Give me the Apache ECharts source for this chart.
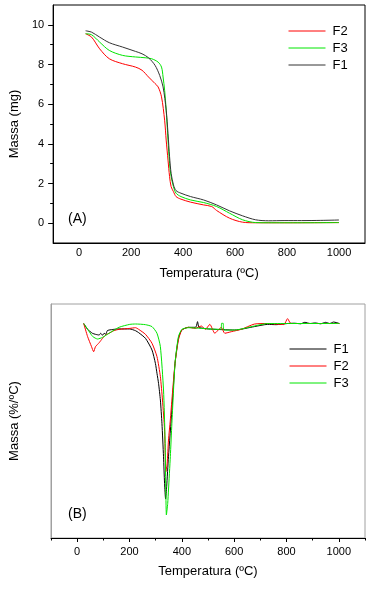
<!DOCTYPE html>
<html>
<head>
<meta charset="utf-8">
<script src="https://cdn.jsdelivr.net/npm/echarts@6/dist/echarts.min.js"></script>
<style>
  html, body { margin: 0; padding: 0; background: #fff; }
  #chart { width: 373px; height: 589px; }
</style>
</head>
<body>
<div id="chart"></div>
<script>
// (A) TG - massa (mg)
var tempF1A = [25, 48, 79, 116, 167, 217, 242, 267, 292, 310, 323, 335, 342, 348, 354, 363, 373, 392, 429, 479, 529, 579, 629, 679, 729, 792, 855, 930, 1000];
var massF1A = [9.70, 9.63, 9.38, 9.10, 8.88, 8.66, 8.54, 8.34, 7.96, 7.45, 6.87, 5.70, 4.52, 3.35, 2.51, 1.93, 1.64, 1.51, 1.34, 1.17, 0.92, 0.62, 0.37, 0.17, 0.12, 0.13, 0.13, 0.14, 0.16];

var tempF2A = [25, 48, 79, 116, 167, 217, 242, 267, 292, 304, 317, 329, 335, 342, 348, 354, 363, 373, 392, 429, 479, 510, 529, 579, 629, 679, 800, 1000];
var massF2A = [9.55, 9.38, 8.79, 8.29, 8.04, 7.87, 7.71, 7.37, 7.04, 6.87, 6.37, 5.19, 4.19, 3.18, 2.35, 1.84, 1.59, 1.34, 1.21, 1.06, 0.92, 0.84, 0.64, 0.25, 0.05, 0.02, 0.02, 0.03];

var tempF3A = [25, 48, 79, 116, 167, 217, 254, 279, 304, 317, 323, 329, 335, 342, 348, 354, 363, 373, 392, 429, 479, 529, 579, 629, 679, 729, 850, 1000];
var massF3A = [9.55, 9.50, 9.13, 8.71, 8.46, 8.38, 8.34, 8.29, 8.12, 7.87, 7.37, 6.70, 5.70, 4.19, 3.00, 2.35, 1.84, 1.51, 1.34, 1.17, 1.04, 0.84, 0.50, 0.17, 0.03, 0.02, 0.02, 0.03];

// (B) DTG - massa (%/ºC)
var tempF1B = [25, 40, 58, 70, 84, 90, 97, 103, 109, 115, 122, 140, 160, 201, 223, 235, 261, 286, 299, 305, 311, 318, 324, 330, 334, 338, 342, 349, 362, 374, 387, 400, 425, 450, 455, 460, 465, 475, 501, 602, 677, 728, 760, 804, 830, 854, 870, 890, 910, 930, 950, 965, 980, 1002];
var dtgF1B = [0, -0.06, -0.1, -0.111, -0.118, -0.1, -0.121, -0.1, -0.111, -0.074, -0.067, -0.06, -0.056, -0.056, -0.074, -0.094, -0.152, -0.272, -0.409, -0.511, -0.614, -0.785, -1.024, -1.366, -1.64, -1.80, -1.674, -1.366, -0.887, -0.409, -0.152, -0.067, -0.039, -0.039, -0.032, 0.019, -0.039, -0.046, -0.056, -0.067, -0.032, -0.009, -0.012, 0, 0.003, -0.003, 0.012, 0, 0.006, -0.003, 0.012, 0, 0.015, 0];

var tempF2B = [25, 40, 55, 63, 70, 84, 97, 109, 122, 140, 160, 201, 223, 235, 261, 286, 305, 318, 326, 334, 339, 344, 349, 356, 362, 374, 387, 400, 425, 450, 475, 490, 507, 526, 545, 551, 564, 589, 627, 677, 728, 790, 804, 817, 1002];
var dtgF2B = [0, -0.135, -0.238, -0.289, -0.238, -0.197, -0.152, -0.118, -0.1, -0.074, -0.06, -0.05, -0.043, -0.06, -0.111, -0.203, -0.34, -0.545, -0.785, -1.092, -1.52, -1.434, -1.195, -0.99, -0.785, -0.409, -0.169, -0.067, -0.039, -0.05, -0.026, -0.06, -0.009, -0.1, -0.05, -0.04, -0.1, -0.084, -0.06, -0.006, 0, -0.01, 0.05, 0, 0];

var tempF3B = [25, 46, 60, 78, 97, 122, 160, 201, 223, 261, 286, 305, 318, 330, 336, 341, 346, 349, 356, 362, 374, 387, 400, 425, 475, 540, 550, 552, 558, 560, 602, 677, 728, 804, 1002];
var dtgF3B = [0, -0.084, -0.135, -0.159, -0.142, -0.1, -0.039, -0.009, -0.005, -0.012, -0.032, -0.1, -0.238, -0.682, -1.195, -1.964, -1.845, -1.708, -1.366, -1.024, -0.409, -0.135, -0.06, -0.043, -0.05, -0.06, -0.06, 0.002, 0.002, -0.067, -0.067, -0.026, 0, 0, 0];

var xLabels = [0, 200, 400, 600, 800, 1000];
var xMinorTicks = [-100, 100, 300, 500, 700, 900, 1100];
var yLabelsA = [0, 2, 4, 6, 8, 10];
var yMinorA = [1, 3, 5, 7, 9];

function pairs(xs, ys) {
  return xs.map(function (x, i) { return [x, ys[i]]; });
}
function plain(v) { return String(v); }
// series names carry the panel, legend shows only "F1", "F2", "F3"
function shortName(name) { return name.split(' ')[0]; }

var font = 'Liberation Sans, Arial, sans-serif';
var chart = echarts.init(document.getElementById('chart'), null, { renderer: 'canvas' });

var nameStyle = { fontSize: 13, color: '#000', fontFamily: font };
var hidden = { show: false };

function curve(name, xi, yi, data, color, smooth) {
  return {
    name: name, type: 'line', xAxisIndex: xi, yAxisIndex: yi, data: data,
    symbol: 'none', smooth: smooth, lineStyle: { color: color, width: 1 }, itemStyle: { color: color }
  };
}

function legendAt(left, top, names) {
  return {
    selectedMode: false, orient: 'vertical', left: left, top: top, padding: 0,
    itemWidth: 37, itemHeight: 14, itemGap: 4,
    itemStyle: { opacity: 0 },
    lineStyle: { width: 1 },
    formatter: shortName,
    textStyle: { fontSize: 13, color: '#000', fontFamily: font, padding: [0, 0, 0, 2] },
    data: names
  };
}

var option = {
  backgroundColor: '#fff',
  animation: false,
  textStyle: { fontFamily: font },
  grid: [
    { left: 46, top: 5, width: 319, height: 238, show: true, borderColor: '#000', borderWidth: 1 },
    { left: 48, top: 304, width: 317, height: 234, show: true, borderColor: '#a0a0a0', borderWidth: 1 }
  ],
  xAxis: [
    {
      gridIndex: 0, type: 'value', min: -100, max: 1100, position: 'bottom',
      name: 'Temperatura (ºC)', nameLocation: 'middle', nameGap: 24, nameTextStyle: nameStyle,
      axisLine: { onZero: false, lineStyle: { color: '#000' } },
      axisTick: hidden,
      axisLabel: { customValues: xLabels, formatter: plain, fontSize: 11, color: '#000', margin: 4, fontFamily: font },
      splitLine: hidden
    },
    {
      gridIndex: 1, type: 'value', min: -100, max: 1100, position: 'bottom',
      name: 'Temperatura (ºC)', nameLocation: 'middle', nameGap: 27, nameTextStyle: nameStyle,
      axisLine: { onZero: false, lineStyle: { color: '#000' } },
      axisTick: { customValues: xLabels, length: 4, lineStyle: { color: '#000' } },
      axisLabel: { customValues: xLabels, formatter: plain, fontSize: 11, color: '#000', margin: 8, fontFamily: font },
      splitLine: hidden
    },
    {
      // minor ticks for (B)
      gridIndex: 1, type: 'value', min: -100, max: 1100, position: 'bottom',
      axisLine: { show: false, onZero: false },
      axisTick: { customValues: xMinorTicks, length: 2.5, lineStyle: { color: '#000' } },
      axisLabel: hidden,
      splitLine: hidden
    }
  ],
  yAxis: [
    {
      gridIndex: 0, type: 'value', min: -1, max: 11, position: 'left',
      name: 'Massa (mg)', nameLocation: 'middle', nameGap: 27, nameTextStyle: nameStyle,
      axisLine: { onZero: false, lineStyle: { color: '#000' } },
      axisTick: { customValues: yLabelsA, length: 5, lineStyle: { color: '#000' } },
      axisLabel: { customValues: yLabelsA, formatter: plain, fontSize: 11, color: '#000', margin: 9, fontFamily: font },
      splitLine: hidden
    },
    {
      // minor ticks for (A)
      gridIndex: 0, type: 'value', min: -1, max: 11, position: 'left',
      axisLine: { show: false, onZero: false },
      axisTick: { customValues: yMinorA, length: 3, lineStyle: { color: '#000' } },
      axisLabel: hidden,
      splitLine: hidden
    },
    {
      gridIndex: 1, type: 'value', min: -2.2, max: 0.2, position: 'left',
      name: 'Massa (%/ºC)', nameLocation: 'middle', nameGap: 30, nameTextStyle: nameStyle,
      axisLine: { onZero: false, lineStyle: { color: '#a0a0a0' } },
      axisTick: hidden,
      axisLabel: hidden,
      splitLine: hidden
    }
  ],
  legend: [
    legendAt(288, 24.5, ['F2 A', 'F3 A', 'F1 A']),
    legendAt(289, 342.5, ['F1 B', 'F2 B', 'F3 B'])
  ],
  graphic: [
    { type: 'text', left: 68, top: 212, style: { text: '(A)', font: '14px ' + font, fill: '#000' } },
    { type: 'text', left: 68, top: 507, style: { text: '(B)', font: '14px ' + font, fill: '#000' } }
  ],
  series: [
    curve('F2 A', 0, 0, pairs(tempF2A, massF2A), '#ff0000', 0.3),
    curve('F3 A', 0, 0, pairs(tempF3A, massF3A), '#00e600', 0.3),
    curve('F1 A', 0, 0, pairs(tempF1A, massF1A), '#333333', 0.3),
    curve('F1 B', 1, 2, pairs(tempF1B, dtgF1B), '#000000', 0.2),
    curve('F2 B', 1, 2, pairs(tempF2B, dtgF2B), '#ff0000', 0.2),
    curve('F3 B', 1, 2, pairs(tempF3B, dtgF3B), '#00e600', 0.2)
  ]
};

chart.setOption(option);
</script>
</body>
</html>
